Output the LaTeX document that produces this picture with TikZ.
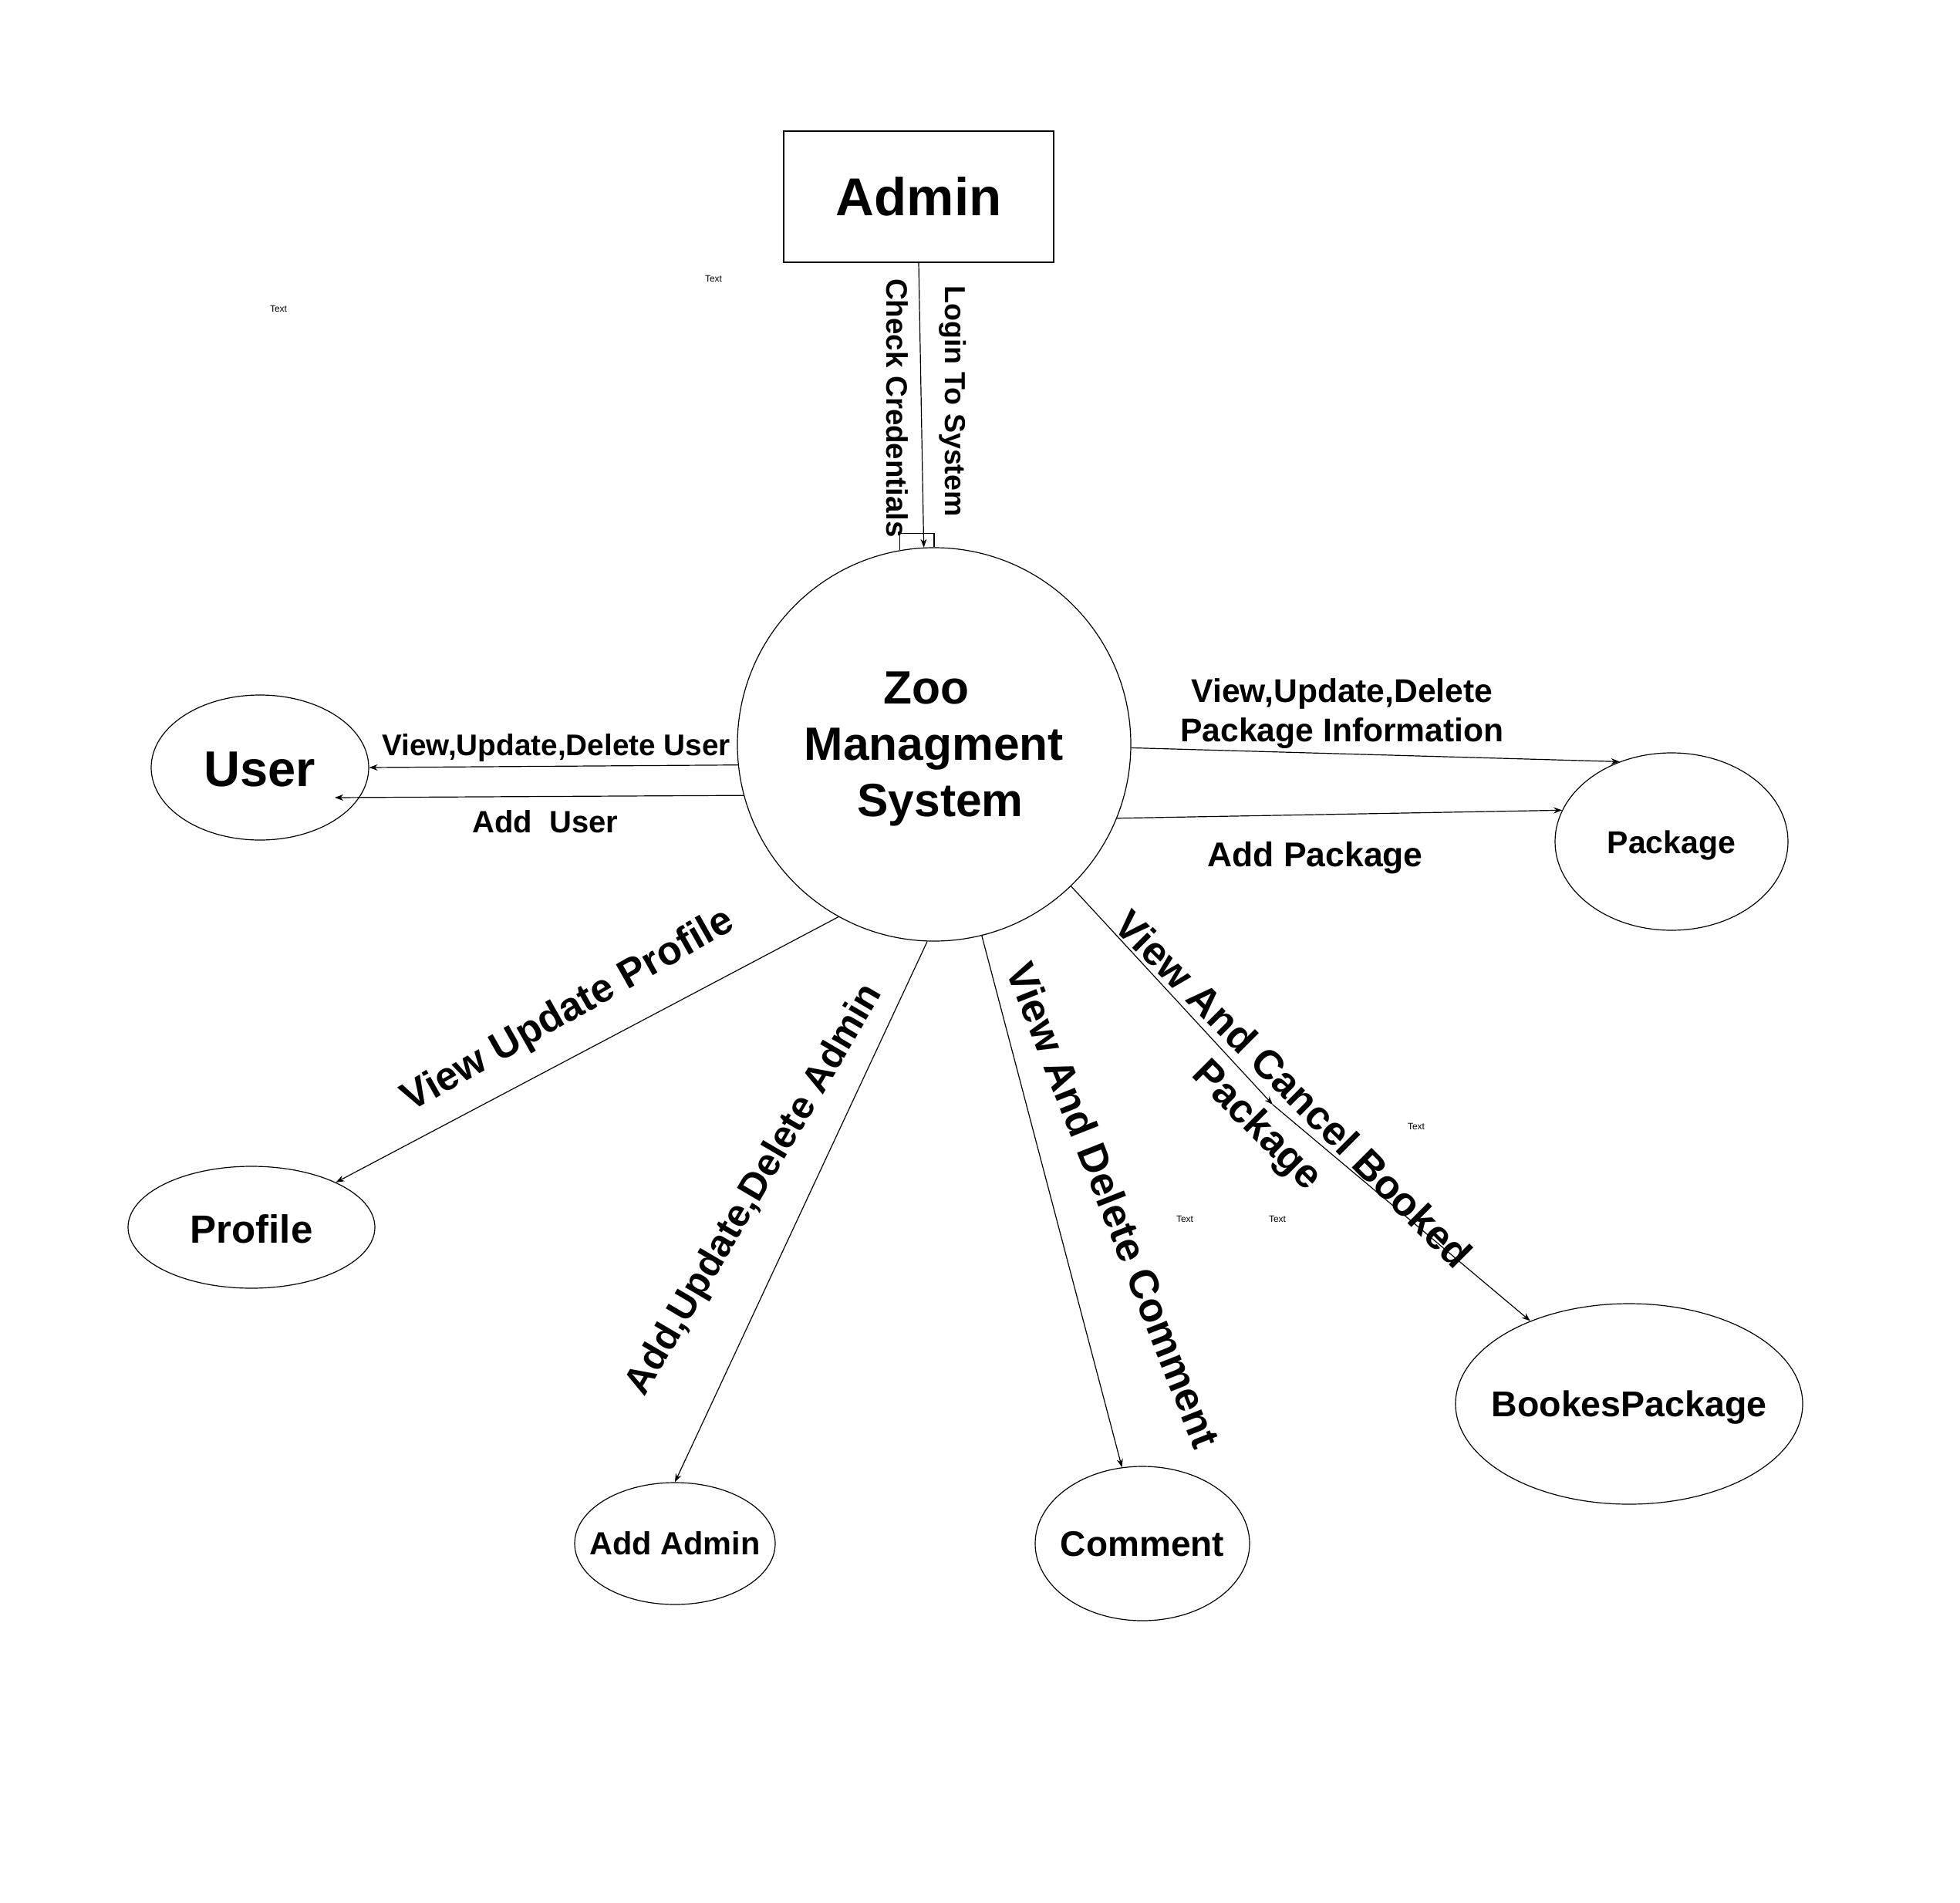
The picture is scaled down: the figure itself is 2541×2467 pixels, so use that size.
\documentclass[tikz,border=0pt]{standalone}
\usepackage{fontspec}
\setmainfont{Liberation Sans}
\usetikzlibrary{arrows.meta,shapes.geometric}
\newcommand{\fsz}[1]{\fontsize{#1}{#1}\selectfont}
\begin{document}
\begin{tikzpicture}[x=1pt,y=-1pt,
  conn/.style={line width=1.2pt,-{Stealth[length=11pt,width=8pt]}},
  plain/.style={line width=1.2pt},
  ell/.style={ellipse,draw,line width=1.2pt,inner sep=0pt},
  lbl/.style={inner sep=0pt,font=\bfseries},
  tinytext/.style={inner sep=0pt,font=\fontsize{12}{14}\selectfont}]
\useasboundingbox[fill=white] (0,0) rectangle (2541,2467);

% entities
\node[draw,line width=1.3pt,minimum width=350,minimum height=170,inner sep=0pt] (admin) at (1191,255) {};
\node[lbl,font=\fsz{69}\bfseries] (admintext) at (admin.center) {Admin};

\node[circle,draw,line width=1.2pt,minimum size=510,inner sep=0pt] (main) at (1211,965) {};
\node[lbl,align=center,font=\fontsize{60.5}{73}\selectfont\bfseries,yshift=-6pt] (maintext) at (main.center) {Zoo\hspace*{20pt}\\Managment\\\hspace*{16pt}System};

\node[ell,minimum width=282,minimum height=188] (user) at (337,995) {};
\node[lbl,font=\fsz{65}\bfseries,yshift=-2pt] (usertext) at (user.center) {User};

\node[ell,minimum width=302,minimum height=230] (package) at (2167,1091) {};
\node[lbl,font=\fsz{41}\bfseries,yshift=-5pt] (packagetext) at (package.center) {Package};

\node[ell,minimum width=320,minimum height=158] (profile) at (326,1591) {};
\node[lbl,font=\fsz{51}\bfseries,yshift=-2pt] (profiletext) at (profile.center) {Profile};

\node[ell,minimum width=260,minimum height=158] (addadmin) at (875,2001) {};
\node[lbl,font=\fsz{41.5}\bfseries] (addadmintext) at (addadmin.center) {Add Admin};

\node[ell,minimum width=278,minimum height=200] (comment) at (1481,2001) {};
\node[lbl,font=\fsz{46}\bfseries,yshift=-1pt] (commenttext) at (comment.center) {Comment};

\node[ell,minimum width=450,minimum height=260] (bookes) at (2112,1820) {};
\node[lbl,font=\fsz{46.5}\bfseries,yshift=-5pt] (bookestext) at (bookes.center) {BookesPackage};

% connectors
\draw[conn] (admin.south) -- (main.93.5);
\draw[plain] (main.100.2) |- ([yshift=18pt]main.north) -- (main.north);

\draw[conn] (main.186.1) -- (user.east);
\draw[conn] (main.195.4) -- ([xshift=97pt,yshift=-39pt]user.center);

\draw[conn] (main.-1.6) -- (package.123.7);
\draw[conn] (main.-22.6) -- (package.164.3);

\draw[conn] (main.241.3) -- (profile.28.2);
\draw[conn] (main.268.9) -- (addadmin.north);
\draw[conn] (main.284.4) -- (comment.105);

\coordinate (bmid) at (1650,1432);
\draw[conn] (main.-46.6) -- (bmid);
\draw[conn] (bmid) -- (bookes.140.6);

% connector labels
\node[lbl,rotate=-90,font=\fsz{38.5}\bfseries] (lcheck) at (1163,529) {Check Credentials};
\node[lbl,rotate=-90,font=\fsz{37.5}\bfseries] (llogin) at (1235,520) {Login To System};

\node[lbl,font=\fsz{38.7}\bfseries] (lvuduser) at (721,969) {View,Update,Delete User};
\node[lbl,font=\fsz{40}\bfseries] (ladduser) at (707,1065) {Add\ \ User};

\node[lbl,align=center,font=\fontsize{42.6}{51}\selectfont\bfseries] (lvudpack) at (1740,925) {View,Update,Delete\\Package Information};
\node[lbl,font=\fsz{44.5}\bfseries] (laddpack) at (1705,1112) {Add Package};

\node[lbl,rotate=29.5,font=\fsz{52}\bfseries] (lprofile) at (737,1311) {View Update Profile};
\node[lbl,rotate=59.5,font=\fsz{49.5}\bfseries] (laddadmin) at (979,1543) {Add,Update,Delete Admin};
\node[lbl,rotate=-68.5,font=\fsz{53}\bfseries] (lcomment) at (1444,1562) {View And Delete Comment};
\node[lbl,rotate=-45,align=center,font=\fontsize{52.5}{64}\selectfont\bfseries] (lbooked) at (1651,1438) {View And Cancel Booked\\Package};

% stray default labels
\node[tinytext] (t1) at (925,361) {Text};
\node[tinytext] (t2) at (361,400) {Text};
\node[tinytext] (t3) at (1836,1460) {Text};
\node[tinytext] (t4) at (1536,1580) {Text};
\node[tinytext] (t5) at (1656,1580) {Text};
\end{tikzpicture}
\end{document}
